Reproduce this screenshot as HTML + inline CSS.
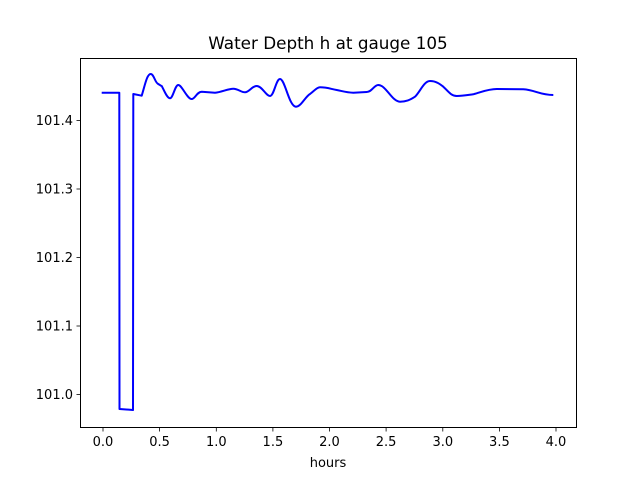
<!DOCTYPE html>
<html><head><style>body{margin:0;background:#fff}svg{display:block}text{font-family:"DejaVu Sans","Liberation Sans",sans-serif;fill:#000}</style></head>
<body>
<svg width="640" height="480" viewBox="0 0 640 480">
<text x="328" y="49" font-size="16.8" text-anchor="middle">Water Depth h at gauge 105</text>
<path fill="none" stroke="#0000ff" stroke-width="2" stroke-linejoin="round" d="M101.7,92.7 L119.3,92.7 L119.5,409 L133,410 L133.3,94 L141.7,95.7 C145,85 147,74 150.7,74 C154,74 155,83 158.3,84 C160,85 161,86 161.7,86 C164,90 167,98.3 170,98.3 C173,98.3 175,85 178.3,85 C182,85 187,99 191.7,99 C195,99 197,91.7 201.7,91.7 L215,92.7 C222,92 228,88.7 233.3,88.7 C238,88.7 241,92.3 245,92.3 C249,92.3 252,86 256.7,86 C262,86 266,96 270,96 C274,96 276,79 280,79 C285,79 289,106.7 296,106.7 C301,106.7 305,97 310,94 C314,91 317,87.3 320,87.3 C327,87.3 331,89 336.7,90 C342,91 347,92.7 353.3,92.7 L366.7,92 C372,92 374,85 378.3,85 C386,85 392,101.7 400,101.7 C406,101.7 410,100 415,96.7 C420,92 424,81 430,81 C436,81 440,84 443.3,86.7 C448,91 451,96 456.7,96 C463,96 468,95 473.3,94.3 C482,92 488,89 496.7,89 L523.3,89.3 C535,90 540,95 553.3,95"/>
<rect x="80.5" y="58.5" width="496" height="369" fill="none" stroke="#000" stroke-width="1"/>
<g stroke="#000" stroke-width="0.8">
<line x1="103" y1="428" x2="103" y2="431.5"/><line x1="159.6" y1="428" x2="159.6" y2="431.5"/><line x1="216.3" y1="428" x2="216.3" y2="431.5"/><line x1="272.9" y1="428" x2="272.9" y2="431.5"/><line x1="329.5" y1="428" x2="329.5" y2="431.5"/><line x1="386.1" y1="428" x2="386.1" y2="431.5"/><line x1="442.8" y1="428" x2="442.8" y2="431.5"/><line x1="499.4" y1="428" x2="499.4" y2="431.5"/><line x1="556" y1="428" x2="556" y2="431.5"/>
<line x1="76.5" y1="120.5" x2="80" y2="120.5"/><line x1="76.5" y1="189" x2="80" y2="189"/><line x1="76.5" y1="257.5" x2="80" y2="257.5"/><line x1="76.5" y1="326" x2="80" y2="326"/><line x1="76.5" y1="394.5" x2="80" y2="394.5"/>
</g>
<g font-size="13" text-anchor="middle">
<text x="103" y="446">0.0</text><text x="159.6" y="446">0.5</text><text x="216.3" y="446">1.0</text><text x="272.9" y="446">1.5</text><text x="329.5" y="446">2.0</text><text x="386.1" y="446">2.5</text><text x="442.8" y="446">3.0</text><text x="499.4" y="446">3.5</text><text x="556" y="446">4.0</text>
<text x="328" y="467">hours</text>
</g>
<g font-size="13" text-anchor="end">
<text x="73" y="125">101.4</text><text x="73" y="193.5">101.3</text><text x="73" y="262">101.2</text><text x="73" y="330.5">101.1</text><text x="73" y="399">101.0</text>
</g>
</svg>
</body></html>
